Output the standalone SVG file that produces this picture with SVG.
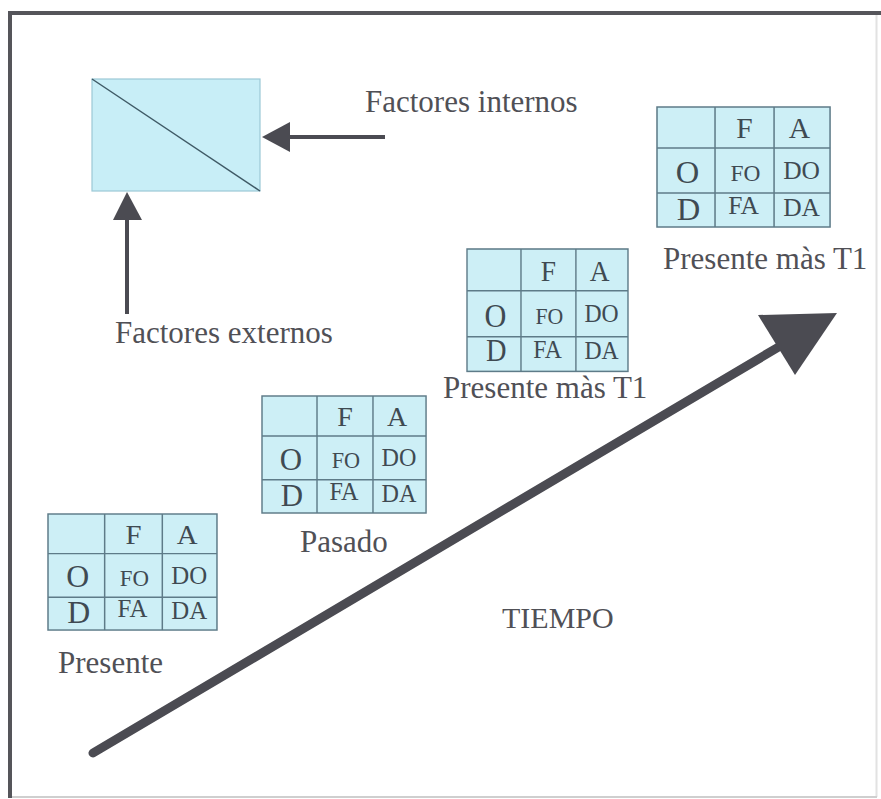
<svg xmlns="http://www.w3.org/2000/svg" width="881" height="799" viewBox="0 0 881 799">
<style>
.lbl{font-family:"Liberation Serif","Times New Roman",serif;font-size:31px;fill:#505056}
.cell{fill:#cdeff6;stroke:#5e7b88;stroke-width:1.5}
.grid{stroke:#5e7b88;stroke-width:1.5;fill:none}
.t{font-family:"Liberation Serif","Times New Roman",serif;fill:#3f4a52;text-anchor:middle}
.big{font-size:29px}
.hd{font-size:32px}
.sm{font-size:23px}
.md{font-size:25px}
.arr{stroke:#4b4b52;fill:none}
.head{fill:#4b4b52}
</style>
<rect x="0" y="0" width="881" height="799" fill="#ffffff"/>
<g id="frame">
<line x1="876.5" y1="13" x2="876.5" y2="797" stroke="#e2e2e2" stroke-width="2"/>
<line x1="10" y1="797" x2="877" y2="797" stroke="#cfcfcf" stroke-width="2"/>
<line x1="8" y1="13" x2="881" y2="13" stroke="#55555a" stroke-width="4"/>
<line x1="10" y1="11" x2="10" y2="798" stroke="#55555a" stroke-width="4"/>
</g>
<g id="factor-box">
<rect x="92" y="79" width="168" height="112" fill="#c8eef7" stroke="#9cc8d6" stroke-width="1.2"/>
<line x1="92" y1="79" x2="260" y2="191" stroke="#3f5a66" stroke-width="1.5"/>
</g>
<g id="connectors">
<line class="arr" x1="385" y1="137" x2="288" y2="137" stroke-width="4"/>
<polygon class="head" points="262,137 290,122 290,152"/>
<line class="arr" x1="127" y1="314" x2="127" y2="218" stroke-width="4"/>
<polygon class="head" points="127,192 113,220 142,220"/>
<line class="arr" x1="93" y1="753" x2="782" y2="345" stroke-width="9" stroke-linecap="round"/>
<polygon class="head" points="837,313 758,315 795,375"/>
</g>
<g id="label-internos"><text class="lbl" x="365" y="112">Factores internos</text></g>
<g id="label-externos"><text class="lbl" x="115" y="343">Factores externos</text></g>

<g id="swot-presente" transform="translate(48,514) scale(0.994,0.967)">
<rect class="cell" x="0" y="0" width="170" height="120"/>
<line class="grid" x1="57" y1="0" x2="57" y2="120"/>
<line class="grid" x1="115" y1="0" x2="115" y2="120"/>
<line class="grid" x1="0" y1="41" x2="170" y2="41"/>
<line class="grid" x1="0" y1="86" x2="170" y2="86"/>
<text class="t big" x="86" y="31">F</text>
<text class="t big" x="140" y="31">A</text>
<text class="t hd" x="30" y="76">O</text>
<text class="t sm" x="87" y="74">FO</text>
<text class="t md" x="142" y="72">DO</text>
<text class="t hd" x="31" y="113">D</text>
<text class="t md" x="85" y="107">FA</text>
<text class="t md" x="142" y="109">DA</text>
</g>
<g id="label-presente"><text class="lbl" x="58" y="673">Presente</text></g>

<g id="swot-pasado" transform="translate(262,396) scale(0.965,0.975)">
<rect class="cell" x="0" y="0" width="170" height="120"/>
<line class="grid" x1="57" y1="0" x2="57" y2="120"/>
<line class="grid" x1="115" y1="0" x2="115" y2="120"/>
<line class="grid" x1="0" y1="41" x2="170" y2="41"/>
<line class="grid" x1="0" y1="86" x2="170" y2="86"/>
<text class="t big" x="86" y="31">F</text>
<text class="t big" x="140" y="31">A</text>
<text class="t hd" x="30" y="76">O</text>
<text class="t sm" x="87" y="74">FO</text>
<text class="t md" x="142" y="72">DO</text>
<text class="t hd" x="31" y="113">D</text>
<text class="t md" x="85" y="107">FA</text>
<text class="t md" x="142" y="109">DA</text>
</g>
<g id="label-pasado"><text class="lbl" x="300" y="552">Pasado</text></g>

<g id="swot-t1-mid" transform="translate(467,249) scale(0.947,1.02)">
<rect class="cell" x="0" y="0" width="170" height="120"/>
<line class="grid" x1="57" y1="0" x2="57" y2="120"/>
<line class="grid" x1="115" y1="0" x2="115" y2="120"/>
<line class="grid" x1="0" y1="41" x2="170" y2="41"/>
<line class="grid" x1="0" y1="86" x2="170" y2="86"/>
<text class="t big" x="86" y="31">F</text>
<text class="t big" x="140" y="31">A</text>
<text class="t hd" x="30" y="76">O</text>
<text class="t sm" x="87" y="74">FO</text>
<text class="t md" x="142" y="72">DO</text>
<text class="t hd" x="31" y="110" style="font-size:30px">D</text>
<text class="t md" x="85" y="107">FA</text>
<text class="t md" x="142" y="108">DA</text>
</g>
<g id="label-t1-mid"><text class="lbl" x="443" y="398">Presente màs T1</text></g>

<g id="swot-t1-top" transform="translate(657,107) scale(1.018,1)">
<rect class="cell" x="0" y="0" width="170" height="120"/>
<line class="grid" x1="57" y1="0" x2="57" y2="120"/>
<line class="grid" x1="115" y1="0" x2="115" y2="120"/>
<line class="grid" x1="0" y1="41" x2="170" y2="41"/>
<line class="grid" x1="0" y1="86" x2="170" y2="86"/>
<text class="t big" x="86" y="31">F</text>
<text class="t big" x="140" y="31">A</text>
<text class="t hd" x="30" y="76">O</text>
<text class="t sm" x="87" y="74">FO</text>
<text class="t md" x="142" y="72">DO</text>
<text class="t hd" x="31" y="113">D</text>
<text class="t md" x="85" y="107">FA</text>
<text class="t md" x="142" y="109">DA</text>
</g>
<g id="label-t1-top"><text class="lbl" x="663" y="269">Presente màs T1</text></g>

<g id="label-tiempo"><text class="lbl" x="502" y="628" style="font-size:30px">TIEMPO</text></g>
</svg>
